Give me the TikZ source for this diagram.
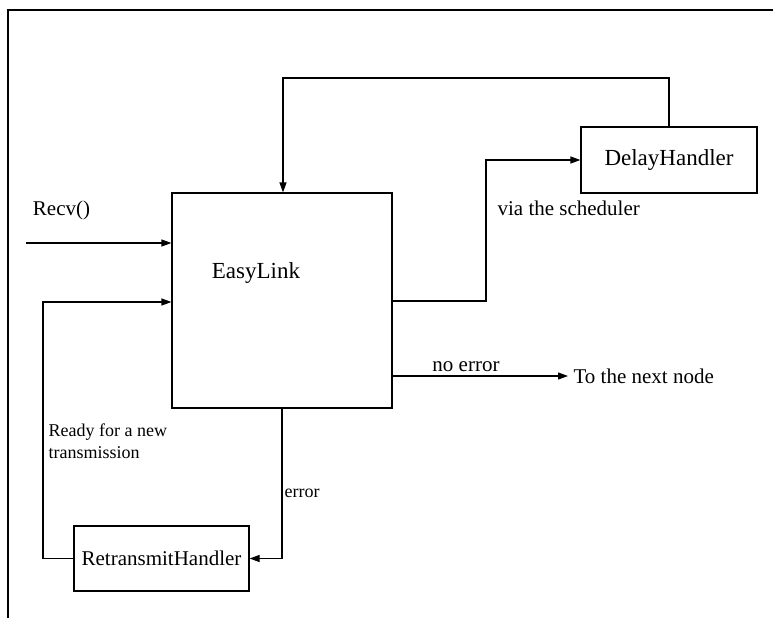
\documentclass[tikz,border=0pt]{standalone}
\usepackage{fontspec}
\setmainfont{Liberation Serif}
\usepackage{tikz}
\usetikzlibrary{arrows.meta, positioning}

\begin{document}
\begin{tikzpicture}[x=1pt, y=-1pt, line width=1.2pt,
    box/.style={draw, inner sep=0pt},
    arr/.style={-{Triangle[length=10pt, width=7pt]}},
    bigtxt/.style={font=\fontsize{23}{26}\selectfont, inner sep=0pt},
    midtxt/.style={font=\fontsize{21}{24}\selectfont, inner sep=0pt},
    smalltxt/.style={font=\fontsize{18}{22}\selectfont, inner sep=0pt}]

    % ==========================================
    % PAGE & FRAME
    % ==========================================

    \useasboundingbox (0,0) rectangle (773,618);

    % Frame lines at the left and top
    \draw (8,618) -- (8,10) -- (773,10);

    % ==========================================
    % BOXES
    % ==========================================

    \node[box, minimum width=220pt, minimum height=215pt] (easylink) at (282,300.5) {};
    \node[bigtxt] (easylinktxt) at (256,273) {EasyLink};

    \node[box, minimum width=176pt, minimum height=66pt, bigtxt] (delay) at (669,160) {DelayHandler};

    \node[box, minimum width=175pt, minimum height=65pt, midtxt] (retrans) at (161.5,558.5) {RetransmitHandler};

    % ==========================================
    % HELPER POINTS
    % ==========================================

    \coordinate (recvin)  at (26,243);
    \coordinate (looptop) at (283,78);
    \coordinate (sched)   at (486,301);
    \coordinate (ready)   at (43,302);

    % ==========================================
    % CONNECTORS
    % ==========================================

    % Incoming call
    \draw[arr] (recvin) -- (recvin -| easylink.west);

    % Back from the delay handler
    \draw[arr] (delay.north) |- (looptop) -- (looptop |- easylink.north);

    % Towards the delay handler
    \draw[arr] (easylink.east |- sched) -- (sched) |- (delay.west);

    % Towards the next node
    \node[midtxt, anchor=west, inner sep=5pt] (next) at (568,376) {To the next node};
    \draw[arr] (easylink.east |- next.west) -- (next.west);

    % Error towards the retransmit handler
    \draw[arr] (easylink.south) |- (retrans.east);

    % Back from the retransmit handler
    \draw[arr] (retrans.west) -| (ready) -- (ready -| easylink.west);

    % ==========================================
    % LABELS
    % ==========================================

    \node[midtxt] (recvtxt) at (61.5,210) {Recv()};
    \node[midtxt, anchor=west] (schedtxt) at (497,208) {via the scheduler};
    \node[midtxt] (noerrtxt) at (466,367) {no error};
    \node[smalltxt, anchor=west] (errtxt) at (284,493) {error};
    \node[smalltxt, anchor=north west, align=left] (readytxt) at (48,423) {Ready for a new\\transmission};

\end{tikzpicture}
\end{document}
